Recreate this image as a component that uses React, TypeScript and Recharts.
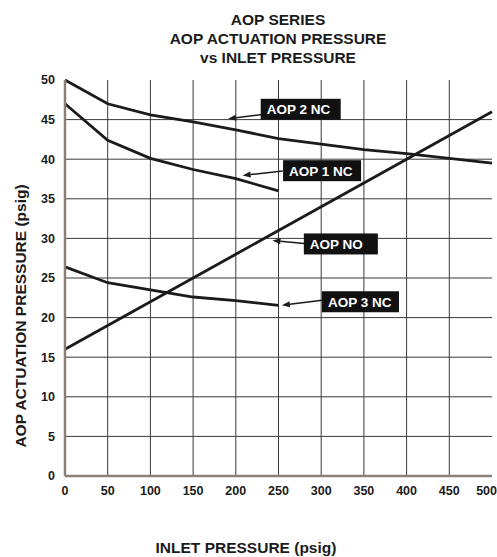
import {
  LineChart,
  Line,
  XAxis,
  YAxis,
  CartesianGrid,
  ReferenceLine,
  ReferenceDot,
} from "recharts";

const inletPressure = [0, 50, 100, 150, 200, 250, 300, 350, 400, 450, 500];
const aop2Nc = [50, 47, 45.6, 44.7, 43.7, 42.6, 41.9, 41.2, 40.7, 40.1, 39.5];
const aop1Nc = [47, 42.4, 40.1, 38.7, 37.55, 36];
const aopNo = [16, 19, 22, 25, 28, 31, 34, 37, 40, 43, 46];
const aop3Nc = [26.4, 24.4, 23.5, 22.6, 22.15, 21.55];

const xTicks = [0, 50, 100, 150, 200, 250, 300, 350, 400, 450, 500];
const yTicks = [0, 5, 10, 15, 20, 25, 30, 35, 40, 45, 50];

const titleLines = ["AOP SERIES", "AOP ACTUATION PRESSURE", "vs INLET PRESSURE"];

// callouts: box centre and arrow tip, both in data units
const callouts = [
  { text: "AOP 2 NC", box: [276, 46.3], from: [236, 45.7], tip: [191, 45.1], w: 80 },
  { text: "AOP 1 NC", box: [301, 38.55], from: [255, 38.5], tip: [208, 37.95], w: 78 },
  { text: "AOP NO", box: [323, 29.3], from: [280, 29.35], tip: [243, 29.75], w: 74 },
  { text: "AOP 3 NC", box: [346, 22.0], from: [301, 22.2], tip: [254, 21.55], w: 77 },
];

const data = inletPressure.map((p, i) => ({
  p,
  aop2: aop2Nc[i] ?? null,
  aop1: aop1Nc[i] ?? null,
  aopNo: aopNo[i] ?? null,
  aop3: aop3Nc[i] ?? null,
}));

const FONT = '"Liberation Sans", Arial, Helvetica, sans-serif';
const INK = "#1b1b1b";
const GRID = "#3a3a3a";
const FRAME = "#8a8078";

function Arrow(props: any) {
  const { x1, y1, x2, y2 } = props;
  const a = Math.atan2(y2 - y1, x2 - x1);
  const len = 8;
  const half = 3;
  const bx = x2 - len * Math.cos(a);
  const by = y2 - len * Math.sin(a);
  const px = -Math.sin(a) * half;
  const py = Math.cos(a) * half;
  return (
    <g>
      <line x1={x1} y1={y1} x2={bx} y2={by} stroke={INK} strokeWidth={1.5} />
      <polygon points={`${x2},${y2} ${bx + px},${by + py} ${bx - px},${by - py}`} fill={INK} />
    </g>
  );
}

function CalloutBox(w: number, text: string) {
  return (props: any) => {
    const { cx, cy } = props;
    return (
      <g>
        <rect x={cx - w / 2} y={cy - 10.5} width={w} height={21} fill="#111" />
        <text
          x={cx - w / 2 + 6}
          y={cy + 5}
          fill="#fff"
          fontFamily={FONT}
          fontWeight="bold"
          fontSize={13.5}
        >
          {text}
        </text>
      </g>
    );
  };
}

// x tick: the last label sits flush with the right edge so it is not clipped
function XTick(props: any) {
  const { x, y, payload } = props;
  const last = payload.value === xTicks[xTicks.length - 1];
  return (
    <text
      x={last ? x + 5 : x}
      y={y}
      dy="0.71em"
      textAnchor={last ? "end" : "middle"}
      fill={INK}
      fontFamily={FONT}
      fontWeight="bold"
      fontSize={12.5}
    >
      {payload.value}
    </text>
  );
}

export default function App() {
  const tick = { fill: INK, fontSize: 12.5, fontWeight: "bold", fontFamily: FONT };
  const frameLine = { stroke: FRAME, strokeWidth: 2.5 };
  return (
    <div style={{ width: 497, height: 557 }}>
      <style>{`body{margin:0}`}</style>
      <LineChart
        width={497}
        height={557}
        data={data}
        margin={{ top: 80, right: 5, bottom: 51, left: 0 }}
      >
        <CartesianGrid
          stroke={GRID}
          strokeWidth={1}
          verticalValues={xTicks.slice(1, -1)}
          horizontalValues={yTicks.slice(1, -1)}
        />
        <XAxis
          dataKey="p"
          type="number"
          domain={[0, 500]}
          ticks={xTicks}
          tick={<XTick />}
          tickLine={false}
          axisLine={frameLine}
          tickSize={0}
          tickMargin={10}
          interval={0}
        />
        <XAxis
          xAxisId="top"
          orientation="top"
          type="number"
          domain={[0, 500]}
          tick={false}
          tickLine={false}
          axisLine={frameLine}
          height={0}
        />
        <YAxis
          type="number"
          domain={[0, 50]}
          ticks={yTicks}
          tick={tick}
          tickLine={false}
          axisLine={frameLine}
          tickSize={0}
          tickMargin={10}
          width={65}
          interval={0}
        />
        <YAxis
          yAxisId="right"
          orientation="right"
          type="number"
          domain={[0, 50]}
          tick={false}
          tickLine={false}
          axisLine={frameLine}
          width={0}
        />
        <Line dataKey="aop2" stroke={INK} strokeWidth={2.8} dot={false} isAnimationActive={false} type="linear" />
        <Line dataKey="aop1" stroke={INK} strokeWidth={2.8} dot={false} isAnimationActive={false} type="linear" />
        <Line dataKey="aopNo" stroke={INK} strokeWidth={2.8} dot={false} isAnimationActive={false} type="linear" />
        <Line dataKey="aop3" stroke={INK} strokeWidth={2.8} dot={false} isAnimationActive={false} type="linear" />
        {callouts.map((c) => (
          <ReferenceLine
            key={c.text + "-arrow"}
            segment={[
              { x: c.from[0], y: c.from[1] },
              { x: c.tip[0], y: c.tip[1] },
            ]}
            shape={Arrow}
          />
        ))}
        {callouts.map((c) => (
          <ReferenceDot
            key={c.text}
            x={c.box[0]}
            y={c.box[1]}
            r={1}
            shape={CalloutBox(c.w, c.text)}
          />
        ))}
        {titleLines.map((t, i) => (
          <text
            key={t}
            x={278}
            y={25 + i * 18.8}
            textAnchor="middle"
            fill={INK}
            fontFamily={FONT}
            fontWeight="bold"
            fontSize={15.5}
          >
            {t}
          </text>
        ))}
        <text
          x={246}
          y={553}
          textAnchor="middle"
          fill={INK}
          fontFamily={FONT}
          fontWeight="bold"
          fontSize={15.5}
        >
          INLET PRESSURE (psig)
        </text>
        <text
          transform="translate(26,316) rotate(-90)"
          textAnchor="middle"
          fill={INK}
          fontFamily={FONT}
          fontWeight="bold"
          fontSize={15.5}
        >
          AOP ACTUATION PRESSURE (psig)
        </text>
      </LineChart>
    </div>
  );
}
